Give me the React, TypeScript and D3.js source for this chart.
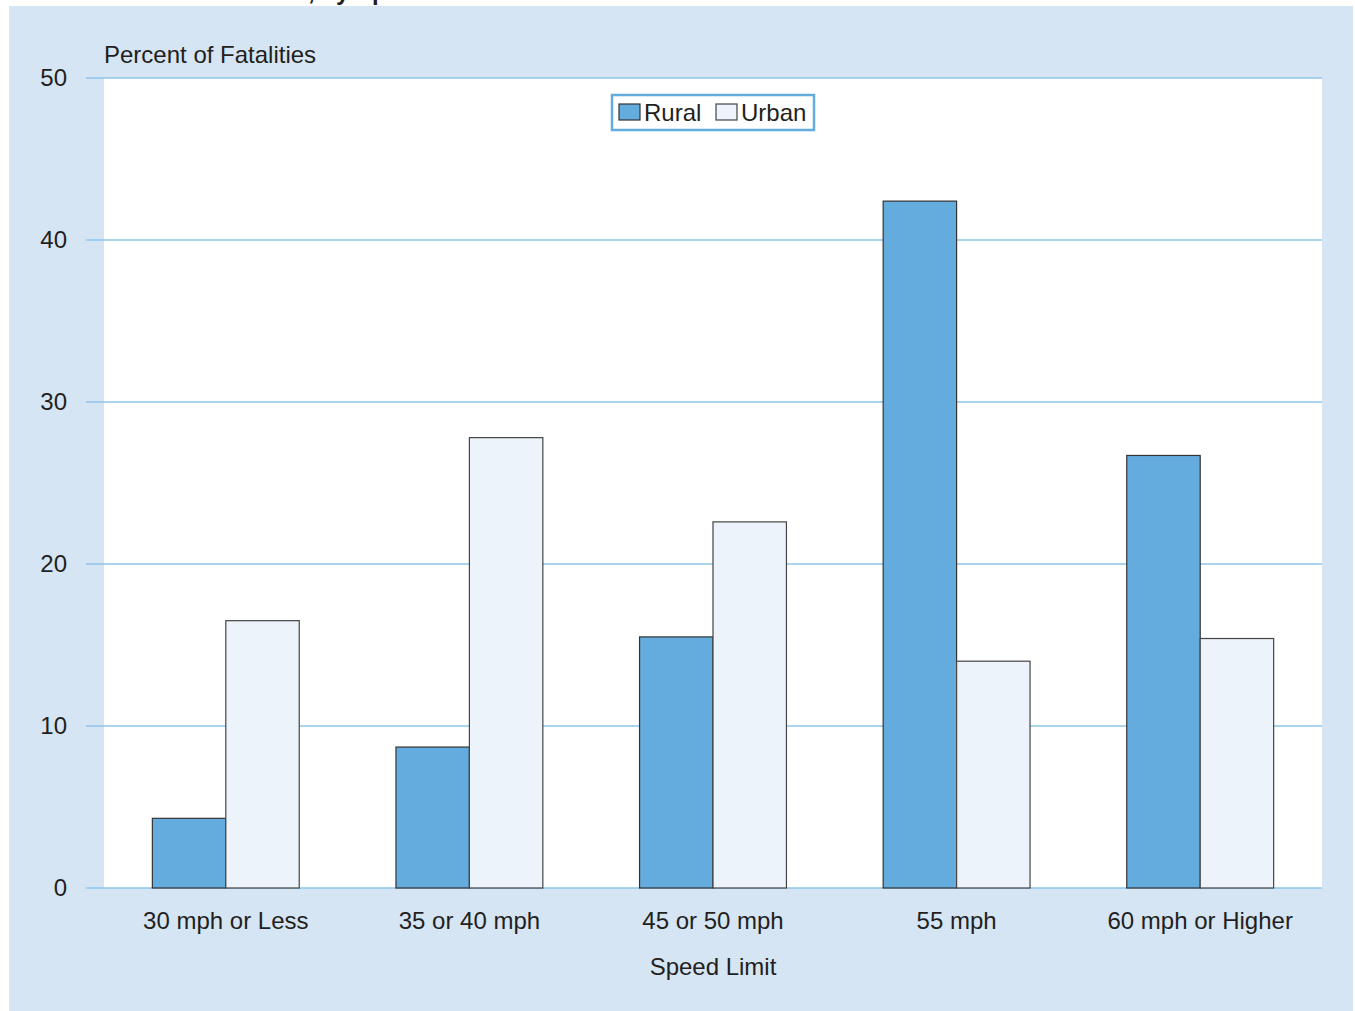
import * as d3 from "d3";

const categories = ["30 mph or Less", "35 or 40 mph", "45 or 50 mph", "55 mph", "60 mph or Higher"];
const seriesNames = ["Rural", "Urban"];
const ruralValues = [4.3, 8.7, 15.5, 42.4, 26.7];
const urbanValues = [16.5, 27.8, 22.6, 14.0, 15.4];
const yTicks = [0, 10, 20, 30, 40, 50];

const width = 1355;
const height = 1011;
const panel = { left: 9, top: 6, right: 1353, bottom: 1011 };
const plot = { left: 104, right: 1322, top: 78, bottom: 888 };
const gridStart = 86;

const colors: Record<string, string> = { Rural: "#63acdd", Urban: "#ecf3fb" };
const strokes: Record<string, string> = { Rural: "#333333", Urban: "#444444" };
const textColor = "#231f20";
const font = "'Liberation Sans', Arial, Helvetica, sans-serif";

const App = () => {
    const x0 = d3.scaleBand<string>()
        .domain(categories)
        .range([plot.left, plot.right])
        .paddingInner(0.397)
        .paddingOuter(0.1985);
    const x1 = d3.scaleBand<string>().domain(seriesNames).range([0, x0.bandwidth()]);
    const y = d3.scaleLinear().domain([0, 50]).range([plot.bottom, plot.top]);

    const rows = categories.map((c, i) => ({ category: c, Rural: ruralValues[i], Urban: urbanValues[i] }));

    return (
        <div style={{ position: "fixed", left: 0, top: 0, width, height, overflow: "hidden", background: "#fff" }}>
            <svg width={width} height={height} style={{ display: "block", fontFamily: font }}>
                {/* title, cropped at the top edge as in the source */}
                <text x={308} y={0} textAnchor="end" fontSize={24} fontWeight="bold" fill={textColor}>Fatalities</text>
                <text x={308} y={0} fontSize={24} fontWeight="bold" fill={textColor}>, by Speed Limit</text>
                <rect x={panel.left} y={panel.top} width={panel.right - panel.left} height={panel.bottom - panel.top} fill="#d6e5f4" />
                <rect x={plot.left} y={plot.top} width={plot.right - plot.left} height={plot.bottom - plot.top} fill="#ffffff" />
                <g>
                    {yTicks.map(t => (
                        <g key={t}>
                            <line x1={gridStart} x2={plot.right} y1={y(t)} y2={y(t)} stroke="#8ec5ea" strokeWidth={1.5} />
                            <text x={67} y={y(t)} dy="0.35em" textAnchor="end" fontSize={24} fill={textColor}>{t}</text>
                        </g>
                    ))}
                </g>
                <g>
                    {rows.map(r => (
                        <g key={r.category} transform={`translate(${x0(r.category)},0)`}>
                            {seriesNames.map(s => (
                                <rect
                                    key={s}
                                    x={x1(s)}
                                    y={y(r[s as "Rural" | "Urban"])}
                                    width={x1.bandwidth()}
                                    height={y(0) - y(r[s as "Rural" | "Urban"])}
                                    fill={colors[s]}
                                    stroke={strokes[s]}
                                    strokeWidth={1.2}
                                />
                            ))}
                        </g>
                    ))}
                </g>
                <g>
                    {categories.map(c => (
                        <text key={c} x={(x0(c) ?? 0) + x0.bandwidth() / 2} y={929} textAnchor="middle" fontSize={24} fill={textColor}>{c}</text>
                    ))}
                </g>
                <text x={104} y={63} fontSize={24} fill={textColor}>Percent of Fatalities</text>
                <text x={(plot.left + plot.right) / 2} y={975} textAnchor="middle" fontSize={24} fill={textColor}>Speed Limit</text>
                <g>
                    <rect x={612} y={95} width={202} height={35} fill="#fff" stroke="#63acdd" strokeWidth={2.5} />
                    {seriesNames.map((s, i) => (
                        <g key={s} transform={`translate(${619 + i * 97},0)`}>
                            <rect x={0} y={104} width={21} height={16} fill={colors[s]} stroke={strokes[s]} strokeWidth={1.2} />
                            <text x={25} y={121} fontSize={24} fill={textColor}>{s}</text>
                        </g>
                    ))}
                </g>
            </svg>
        </div>
    );
};

export default App;
